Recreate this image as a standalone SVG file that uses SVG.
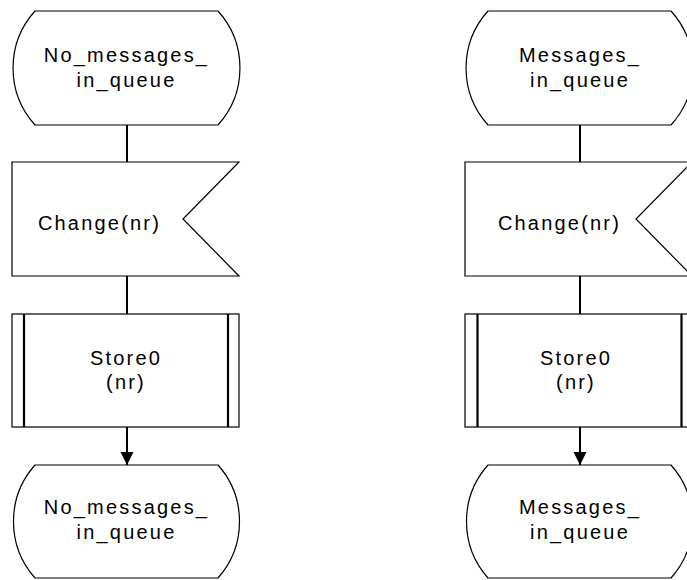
<svg xmlns="http://www.w3.org/2000/svg" width="687" height="580" viewBox="0 0 687 580">
<style>
.shape{fill:#fff;stroke:#000;stroke-width:1.2}
.bar{stroke:#000;stroke-width:2.2;fill:none}
.conn{stroke:#000;stroke-width:2;fill:none}
text{font-family:"Liberation Sans",Arial,Helvetica,sans-serif;font-size:20px;letter-spacing:2.2px;fill:#000;text-anchor:middle}
</style>
<defs>
<marker id="arr" markerWidth="14" markerHeight="14" refX="13" refY="7" orient="auto" markerUnits="userSpaceOnUse">
<path d="M0,0.5 L13,7 L0,13.5 Z" fill="#000"/>
</marker>
</defs>
<rect width="687" height="580" fill="#fff"/>
<g id="connectors">
<line class="conn" x1="127" y1="125" x2="127" y2="162"/>
<line class="conn" x1="127" y1="276" x2="127" y2="314"/>
<line class="conn" x1="127" y1="427" x2="127" y2="465" marker-end="url(#arr)"/>
<line class="conn" x1="580" y1="125" x2="580" y2="162"/>
<line class="conn" x1="580" y1="276" x2="580" y2="314"/>
<line class="conn" x1="580" y1="427" x2="580" y2="465" marker-end="url(#arr)"/>
</g>
<g id="state1">
<path class="shape" d="M35,11 L218,11 A85,85 0 0 1 218,125 L35,125 A85,85 0 0 1 35,11 Z"/>
<text x="126.5" y="62">No_messages_</text>
<text x="126.5" y="87">in_queue</text>
</g>
<g id="input1">
<path class="shape" d="M12,162 L239,162 L183,219 L239,276 L12,276 Z"/>
<text x="99.5" y="230">Change(nr)</text>
</g>
<g id="proc1">
<rect class="shape" x="12" y="314" width="227" height="113"/>
<line class="bar" x1="24" y1="314" x2="24" y2="427"/>
<line class="bar" x1="228" y1="314" x2="228" y2="427"/>
<text x="126" y="365">Store0</text>
<text x="126" y="389">(nr)</text>
</g>
<g id="state2">
<path class="shape" d="M35,465 L218,465 A85,85 0 0 1 218,578 L35,578 A85,85 0 0 1 35,465 Z"/>
<text x="126.5" y="514">No_messages_</text>
<text x="126.5" y="539">in_queue</text>
</g>
<g id="state3">
<path class="shape" d="M488,11 L671,11 A85,85 0 0 1 671,125 L488,125 A85,85 0 0 1 488,11 Z"/>
<text x="580" y="62">Messages_</text>
<text x="580" y="87">in_queue</text>
</g>
<g id="input2">
<path class="shape" d="M465,162 L692,162 L636,219 L692,276 L465,276 Z"/>
<text x="559.5" y="230">Change(nr)</text>
</g>
<g id="proc2">
<rect class="shape" x="465" y="314" width="227" height="113"/>
<line class="bar" x1="477.5" y1="314" x2="477.5" y2="427"/>
<line class="bar" x1="681.5" y1="314" x2="681.5" y2="427"/>
<text x="576" y="365">Store0</text>
<text x="576" y="389">(nr)</text>
</g>
<g id="state4">
<path class="shape" d="M488,465 L671,465 A85,85 0 0 1 671,578 L488,578 A85,85 0 0 1 488,465 Z"/>
<text x="580" y="514">Messages_</text>
<text x="580" y="539">in_queue</text>
</g>
</svg>
